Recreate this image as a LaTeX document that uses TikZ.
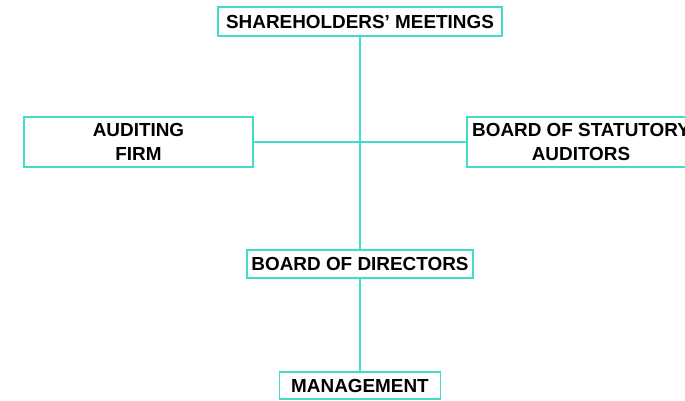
\documentclass[tikz,border=0pt]{standalone}
\usepackage{fontspec}
\setmainfont{Liberation Sans}
\definecolor{teal1}{RGB}{64,222,200}
\begin{document}
\begin{tikzpicture}[x=1pt,y=-1pt,
  box/.style={draw=teal1, line width=1.1pt, inner sep=0pt, align=center,
    font=\fontsize{18.9}{23.5}\selectfont\bfseries, text=black},
  conn/.style={draw=teal1, line width=1.1pt}]
\clip (0,0) rectangle (685,400);
\useasboundingbox (0,0) rectangle (685,400);
\node[box, minimum width=284pt, minimum height=29pt] (sh) at (360,21.5) {SHAREHOLDERS’ MEETINGS};
\node[box, minimum width=229pt, minimum height=50pt] (af) at (138.5,142) {AUDITING\\FIRM};
\node[box, minimum width=228pt, minimum height=50pt] (sa) at (581,142) {BOARD OF STATUTORY\\AUDITORS};
\node[box, minimum width=226pt, minimum height=28pt] (bd) at (360,264) {BOARD OF DIRECTORS};
\node[box, minimum width=161pt, minimum height=27pt] (mg) at (360,385.5) {MANAGEMENT};
\draw[conn] (sh.south) -- (bd.north);
\draw[conn] (af.east) -- (sa.west);
\draw[conn] (bd.south) -- (mg.north);
\end{tikzpicture}
\end{document}
